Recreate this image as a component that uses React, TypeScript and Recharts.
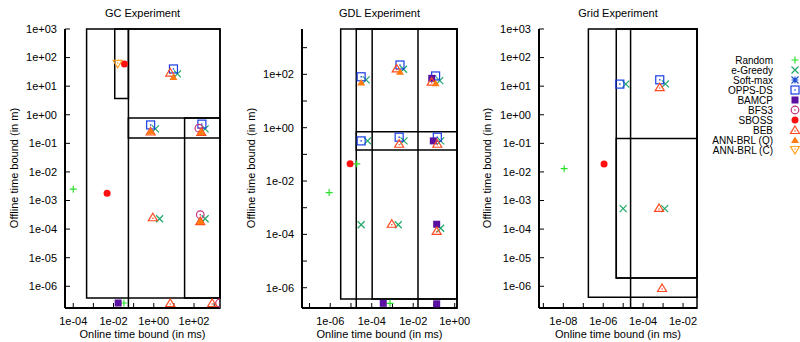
import React from 'react'
import { ScatterChart, Scatter, XAxis, YAxis, ReferenceArea } from 'recharts'

type Pt = { x: number; y: number }
type Box = [number | null, number | null, number | null, number | null]

const FONT = '"Liberation Sans", Arial, Helvetica, sans-serif'

// legend order (also drawing order)
const algorithms = ['Random', 'e-Greedy', 'Soft-max', 'OPPS-DS', 'BAMCP', 'BFS3', 'SBOSS', 'BEB', 'ANN-BRL (Q)', 'ANN-BRL (C)']

// GC experiment: online time (ms) vs offline time (m)
const gcRandom: Pt[] = [{ x: 1e-4, y: 2.5e-3 }, { x: 0.033, y: 2.6e-7 }]
const gcEGreedy: Pt[] = [{ x: 15, y: 27 }, { x: 1.2, y: 0.32 }, { x: 355, y: 0.32 }, { x: 1.95, y: 2.3e-4 }, { x: 355, y: 2.3e-4 }]
const gcSoftmax: Pt[] = []
const gcOpps: Pt[] = [{ x: 9.5, y: 40 }, { x: 0.7, y: 0.44 }, { x: 245, y: 0.47 }]
const gcBamcp: Pt[] = [{ x: 0.017, y: 2.6e-7 }]
const gcBfs3: Pt[] = [{ x: 174, y: 0.34 }, { x: 204, y: 3.2e-4 }, { x: 1850, y: 2.6e-7 }]
const gcSboss: Pt[] = [{ x: 4.8e-3, y: 1.8e-3 }, { x: 0.035, y: 60 }]
const gcBeb: Pt[] = [{ x: 6.6, y: 30 }, { x: 0.7, y: 0.26 }, { x: 229, y: 0.25 }, { x: 0.9, y: 2.6e-4 }, { x: 204, y: 1.9e-4 }, { x: 6.6, y: 2.6e-7 }, { x: 800, y: 2.6e-7 }]
const gcAnnQ: Pt[] = [{ x: 9.5, y: 21 }, { x: 0.7, y: 0.26 }, { x: 229, y: 0.25 }, { x: 204, y: 1.9e-4 }]
const gcAnnC: Pt[] = [{ x: 0.016, y: 60 }]

// GDL experiment
const gdlRandom: Pt[] = [{ x: 8.9e-7, y: 3.7e-3 }, { x: 1.9e-5, y: 0.044 }, { x: 7.6e-4, y: 2.6e-7 }]
const gdlEGreedy: Pt[] = [
  { x: 5.4e-5, y: 62 }, { x: 6.3e-5, y: 0.32 }, { x: 3.1e-5, y: 2.3e-4 },
  { x: 3.4e-3, y: 155 }, { x: 3.6e-3, y: 0.32 }, { x: 1.9e-3, y: 2.3e-4 },
  { x: 0.19, y: 58 }, { x: 0.21, y: 0.32 }, { x: 0.21, y: 1.7e-4 },
]
const gdlSoftmax: Pt[] = []
const gdlOpps: Pt[] = [{ x: 3.1e-5, y: 81 }, { x: 3.1e-5, y: 0.32 }, { x: 2.3e-3, y: 224 }, { x: 2.1e-3, y: 0.44 }, { x: 0.12, y: 87 }, { x: 0.145, y: 0.44 }]
const gdlBamcp: Pt[] = [{ x: 3.6e-4, y: 2.6e-7 }, { x: 0.078, y: 71 }, { x: 0.093, y: 0.32 }, { x: 0.135, y: 2.4e-4 }, { x: 0.135, y: 2.5e-7 }]
const gdlBfs3: Pt[] = []
const gdlSboss: Pt[] = [{ x: 9.1e-6, y: 0.044 }]
const gdlBeb: Pt[] = [{ x: 1.6e-3, y: 166 }, { x: 2.1e-3, y: 0.25 }, { x: 9.3e-4, y: 2.5e-4 }, { x: 0.078, y: 53 }, { x: 0.145, y: 0.25 }, { x: 0.135, y: 1.35e-4 }]
const gdlAnnQ: Pt[] = [{ x: 3.1e-5, y: 49 }, { x: 2.3e-3, y: 125 }, { x: 0.12, y: 46 }]
const gdlAnnC: Pt[] = []

// Grid experiment
const gridRandom: Pt[] = [{ x: 1.1e-8, y: 0.013 }]
const gridEGreedy: Pt[] = [{ x: 1.35e-5, y: 11.8 }, { x: 1e-5, y: 5.2e-4 }, { x: 1.3e-3, y: 12 }, { x: 1.2e-3, y: 5.2e-4 }]
const gridSoftmax: Pt[] = []
const gridOpps: Pt[] = [{ x: 6.8e-6, y: 11.8 }, { x: 6.8e-4, y: 16.7 }]
const gridBamcp: Pt[] = []
const gridBfs3: Pt[] = []
const gridSboss: Pt[] = [{ x: 1.1e-6, y: 0.019 }]
const gridBeb: Pt[] = [{ x: 6.8e-4, y: 9.3 }, { x: 6.3e-4, y: 5.5e-4 }, { x: 8.9e-4, y: 8.7e-7 }]
const gridAnnQ: Pt[] = []
const gridAnnC: Pt[] = []

// bound boxes [x1, x2, y1, y2], null = runs to the plot edge
const gcBoxes: Box[] = [
  [4.6e-4, null, 3.9e-7, null],
  [0.0115, 0.055, 3.7, null],
  [0.055, null, null, null],
  [0.055, null, 0.155, 0.77],
  [34, null, 3.9e-7, 0.77],
]
const gdlBoxes: Box[] = [
  [3.2e-6, null, 3.8e-7, null],
  [1.8e-5, null, null, null],
  [1.05e-4, null, 3.8e-7, null],
  [0.017, null, null, null],
  [1.8e-5, null, 0.145, 0.71],
]
const gridBoxes: Box[] = [
  [1.8e-7, null, 4.1e-7, null],
  [4.5e-6, null, 1.95e-6, null],
  [2.35e-5, null, null, null],
  [4.5e-6, null, 1.95e-6, 0.148],
]

const gcXTicks = [1e-4, 1e-3, 1e-2, 1e-1, 1e0, 1e1, 1e2, 1e3]
const gcYTicks = [1e-6, 1e-5, 1e-4, 1e-3, 1e-2, 1e-1, 1e0, 1e1, 1e2, 1e3]
const gdlXTicks = [1e-7, 1e-6, 1e-5, 1e-4, 1e-3, 1e-2, 1e-1, 1e0]
const gdlYTicks = [1e-6, 1e-5, 1e-4, 1e-3, 1e-2, 1e-1, 1e0, 1e1, 1e2, 1e3]
const gridXTicks = [1e-9, 1e-8, 1e-7, 1e-6, 1e-5, 1e-4, 1e-3, 1e-2]
const gridYTicks = [1e-6, 1e-5, 1e-4, 1e-3, 1e-2, 1e-1, 1e0, 1e1, 1e2, 1e3]

const COLORS = ['#2ee02e', '#1ea868', '#2050d0', '#1a3fe8', '#5a10a0', '#c0307a', '#ff1010', '#ff4a20', '#ff7a10', '#ffa020']
const KINDS = ['plus', 'cross', 'star', 'sqdot', 'sqfill', 'circdot', 'dot', 'tridot', 'trifill', 'tridowndot']

function Marker({ kind, color, cx, cy }: { kind: string; color: string; cx: number; cy: number }) {
  const sw = 1.2
  switch (kind) {
    case 'plus':
      return <path d={`M${cx - 3.5},${cy}h7M${cx},${cy - 3.5}v7`} stroke={color} strokeWidth={sw} fill="none" />
    case 'cross':
      return <path d={`M${cx - 3.5},${cy - 3.5}l7,7M${cx - 3.5},${cy + 3.5}l7,-7`} stroke={color} strokeWidth={sw} fill="none" />
    case 'star':
      return <path d={`M${cx - 3.5},${cy - 3.5}l7,7M${cx - 3.5},${cy + 3.5}l7,-7M${cx - 3.5},${cy}h7M${cx},${cy - 3.5}v7`} stroke={color} strokeWidth={sw} fill="none" />
    case 'sqdot':
      return (
        <g>
          <rect x={cx - 4} y={cy - 4} width={8} height={8} fill="none" stroke={color} strokeWidth={sw} />
          <rect x={cx - 0.7} y={cy - 0.7} width={1.4} height={1.4} fill={color} />
        </g>
      )
    case 'sqfill':
      return <rect x={cx - 3.5} y={cy - 3.5} width={7} height={7} fill={color} />
    case 'circdot':
      return (
        <g>
          <circle cx={cx} cy={cy} r={3.8} fill="none" stroke={color} strokeWidth={sw} />
          <circle cx={cx} cy={cy} r={0.8} fill={color} />
        </g>
      )
    case 'dot':
      return <circle cx={cx} cy={cy} r={3.5} fill={color} />
    case 'tridot':
      return (
        <g>
          <path d={`M${cx},${cy - 4}L${cx + 4.5},${cy + 3.5}L${cx - 4.5},${cy + 3.5}Z`} fill="none" stroke={color} strokeWidth={sw} />
          <circle cx={cx} cy={cy + 1} r={0.8} fill={color} />
        </g>
      )
    case 'trifill':
      return <path d={`M${cx},${cy - 3.5}L${cx + 4},${cy + 3}L${cx - 4},${cy + 3}Z`} fill={color} />
    case 'tridowndot':
      return (
        <g>
          <path d={`M${cx},${cy + 4}L${cx + 4.5},${cy - 3.5}L${cx - 4.5},${cy - 3.5}Z`} fill="none" stroke={color} strokeWidth={sw} />
          <circle cx={cx} cy={cy - 1} r={0.8} fill={color} />
        </g>
      )
  }
  return null
}

const fmtExp = (v: number) => {
  const e = Math.round(Math.log10(v))
  return `1e${e < 0 ? '-' : '+'}${String(Math.abs(e)).padStart(2, '0')}`
}
const evenOnly = (v: number) => (Math.round(Math.log10(v)) % 2 === 0 ? fmtExp(v) : '')

const tickStyle = { fontSize: 11, fill: '#000', fontFamily: FONT }
const axisLine = { stroke: '#000', strokeWidth: 2 }
const tickLine = { stroke: '#000', strokeWidth: 1 }

interface PanelProps {
  left: number
  width: number
  yAxisW: number
  marginRight: number
  xDomain: [number, number]
  yDomain: [number, number]
  xTicks: number[]
  yTicks: number[]
  xFmt: (v: number) => string
  yFmt: (v: number) => string
  boxes: Box[]
  series: Pt[][]
}

function Panel({ left, width, yAxisW, marginRight, xDomain, yDomain, xTicks, yTicks, xFmt, yFmt, boxes, series }: PanelProps) {
  return (
    <div style={{ position: 'absolute', left, top: 0 }}>
      <ScatterChart width={width} height={342} margin={{ top: 29, right: marginRight, bottom: 0, left: 0 }}>
        <XAxis xAxisId={0} dataKey="x" type="number" scale="log" domain={xDomain} allowDataOverflow ticks={xTicks}
          tickFormatter={xFmt} height={34} tickSize={-5} tickMargin={14} tick={tickStyle} axisLine={axisLine} tickLine={tickLine} interval={0} />
        <XAxis xAxisId="top" orientation="top" type="number" scale="log" domain={xDomain} allowDataOverflow ticks={xTicks}
          height={0} tickSize={-5} tick={false} axisLine={axisLine} tickLine={tickLine} interval={0} />
        <YAxis yAxisId={0} dataKey="y" type="number" scale="log" domain={yDomain} allowDataOverflow ticks={yTicks}
          tickFormatter={yFmt} width={yAxisW} tickSize={-5} tickMargin={13} tick={tickStyle} axisLine={axisLine} tickLine={tickLine} interval={0} />
        <YAxis yAxisId="right" orientation="right" type="number" scale="log" domain={yDomain} allowDataOverflow ticks={yTicks}
          width={0} tickSize={-5} tick={false} axisLine={axisLine} tickLine={tickLine} interval={0} />
        {boxes.map((b, i) => (
          <ReferenceArea key={i} xAxisId={0} yAxisId={0}
            x1={b[0] ?? xDomain[0]} x2={b[1] ?? xDomain[1]} y1={b[2] ?? yDomain[0]} y2={b[3] ?? yDomain[1]}
            fill="none" fillOpacity={0} stroke="#000" strokeWidth={1.5} ifOverflow="visible" />
        ))}
        {series.map((data, i) => (
          <Scatter key={algorithms[i]} name={algorithms[i]} data={data} xAxisId={0} yAxisId={0} isAnimationActive={false}
            shape={(p: any) => <Marker kind={KINDS[i]} color={COLORS[i]} cx={p.cx} cy={p.cy} />} />
        ))}
      </ScatterChart>
    </div>
  )
}

const panels = [
  { title: 'GC Experiment', cx: 142.5, ylabX: 14 },
  { title: 'GDL Experiment', cx: 379.5, ylabX: 251 },
  { title: 'Grid Experiment', cx: 618, ylabX: 487 },
]

export default function App() {
  return (
    <div style={{ position: 'absolute', left: 0, top: 0, width: 800, height: 342, background: '#fff', fontFamily: FONT }}>
      <Panel left={0} width={240} yAxisW={65} marginRight={20}
        xDomain={[Math.pow(10, -4.41), Math.pow(10, 3.29)]} yDomain={[Math.pow(10, -6.76), 1e3]}
        xTicks={gcXTicks} yTicks={gcYTicks} xFmt={evenOnly} yFmt={fmtExp} boxes={gcBoxes}
        series={[gcRandom, gcEGreedy, gcSoftmax, gcOpps, gcBamcp, gcBfs3, gcSboss, gcBeb, gcAnnQ, gcAnnC]} />
      <Panel left={240} width={235} yAxisW={62} marginRight={18}
        xDomain={[Math.pow(10, -7.36), Math.pow(10, 0.11)]} yDomain={[Math.pow(10, -6.76), Math.pow(10, 3.7)]}
        xTicks={gdlXTicks} yTicks={gdlYTicks} xFmt={evenOnly} yFmt={evenOnly} boxes={gdlBoxes}
        series={[gdlRandom, gdlEGreedy, gdlSoftmax, gdlOpps, gdlBamcp, gdlBfs3, gdlSboss, gdlBeb, gdlAnnQ, gdlAnnC]} />
      <Panel left={470} width={245} yAxisW={69} marginRight={18}
        xDomain={[Math.pow(10, -9.22), Math.pow(10, -1.3)]} yDomain={[Math.pow(10, -6.76), 1e3]}
        xTicks={gridXTicks} yTicks={gridYTicks} xFmt={evenOnly} yFmt={fmtExp} boxes={gridBoxes}
        series={[gridRandom, gridEGreedy, gridSoftmax, gridOpps, gridBamcp, gridBfs3, gridSboss, gridBeb, gridAnnQ, gridAnnC]} />
      <svg width={800} height={342} style={{ position: 'absolute', left: 0, top: 0, pointerEvents: 'none' }}
        fontFamily={FONT} fontSize={11}>
        {panels.map(p => (
          <g key={p.title}>
            <text x={p.cx} y={16.5} textAnchor="middle">{p.title}</text>
            <text x={p.cx} y={338} textAnchor="middle">Online time bound (in ms)</text>
            <text x={p.ylabX} y={168} textAnchor="middle" transform={`rotate(-90 ${p.ylabX} 168)`} dominantBaseline="central">
              Offline time bound (in m)
            </text>
          </g>
        ))}
        {algorithms.map((name, i) => (
          <g key={name}>
            <text x={773} y={60 + i * 10} textAnchor="end" dominantBaseline="central" fontSize={10}>{name}</text>
            <Marker kind={KINDS[i]} color={COLORS[i]} cx={795} cy={60 + i * 10} />
          </g>
        ))}
      </svg>
    </div>
  )
}
